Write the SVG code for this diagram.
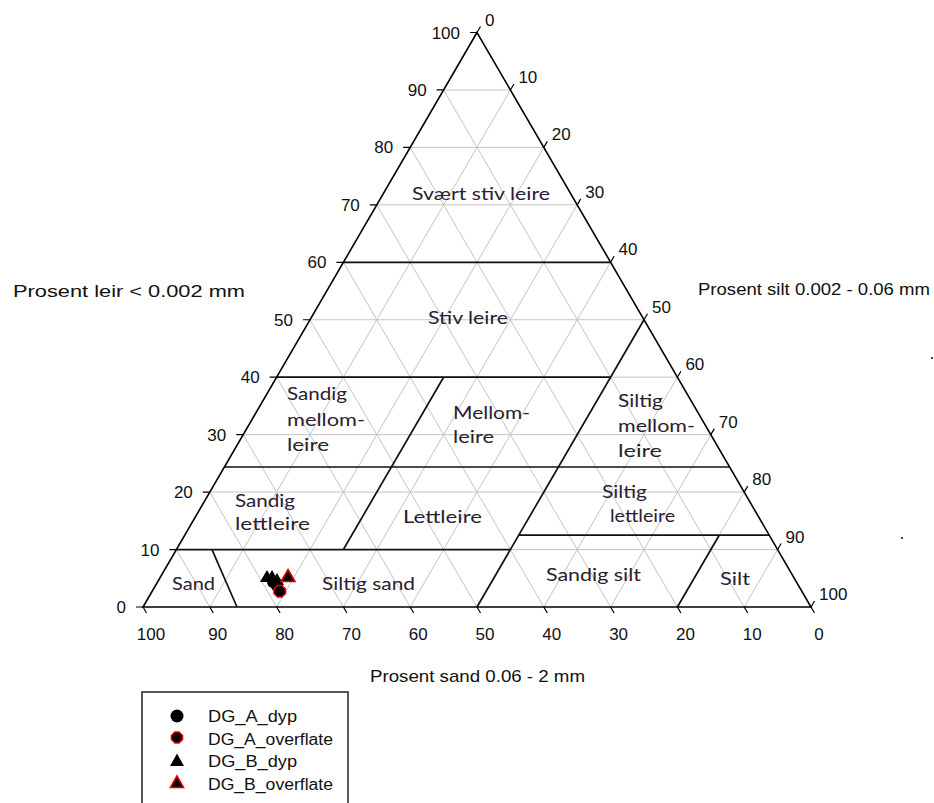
<svg xmlns="http://www.w3.org/2000/svg" width="934" height="803" viewBox="0 0 934 803">
<style>
.grid{fill:none;stroke:#c4c4c4;stroke-width:1}
.edge{fill:none;stroke:#000;stroke-width:1.6;stroke-linejoin:miter}
.bound{fill:none;stroke:#111;stroke-width:1.7}
.tick{fill:none;stroke:#000;stroke-width:1.2}
.num{font-family:"Liberation Sans",Arial,sans-serif;font-size:17px;fill:#111}
.title{font-family:"Liberation Sans",Arial,sans-serif;font-size:17px;fill:#111}
.lab{font-family:Lato,"Open Sans",sans-serif;font-size:17px;fill:#2a2030}
.leg{font-family:"Liberation Sans",Arial,sans-serif;font-size:16px;fill:#111}
.blk{fill:#000;stroke:none}
.red{fill:#000;stroke:#e00000;stroke-width:1.6}
</style>
<rect width="934" height="803" fill="#fff"/>
<g id="grid">
<path class="grid" d="M176.4 549.55H777.6M209.8 492.1H744.2M243.2 434.65H710.8M276.6 377.2H677.4M310 319.75H644M343.4 262.3H610.6M376.8 204.85H577.2M410.2 147.4H543.8M443.6 89.95H510.4"/>
<path class="grid" d="M209.8 607L510.4 89.95M276.6 607L543.8 147.4M343.4 607L577.2 204.85M410.2 607L610.6 262.3M477 607L644 319.75M543.8 607L677.4 377.2M610.6 607L710.8 434.65M677.4 607L744.2 492.1M744.2 607L777.6 549.55"/>
<path class="grid" d="M744.2 607L443.6 89.95M677.4 607L410.2 147.4M610.6 607L376.8 204.85M543.8 607L343.4 262.3M477 607L310 319.75M410.2 607L276.6 377.2M343.4 607L243.2 434.65M276.6 607L209.8 492.1M209.8 607L176.4 549.55"/>
</g>
<g id="connectors">
<path class="bound" d="M176.4 549.55H510.4M518.75 535.2H769.25M224.4 467H729.6M276.6 377.2H610.6M343.4 262.3H610.6M477 607L644 319.75M343.4 549.55L443.6 377.2M677.4 607L719.2 535.2M237 607L212 549.55"/>
</g>
<g id="triangle">
<path class="edge" d="M477 32.5L143 607L811 607Z"/>
<path class="tick" d="M136 607H143M169.4 549.55H176.4M202.8 492.1H209.8M236.2 434.65H243.2M269.6 377.2H276.6M303 319.75H310M336.4 262.3H343.4M369.8 204.85H376.8M403.2 147.4H410.2M436.6 89.95H443.6M470 32.5H477"/>
<path class="tick" d="M477 32.5l3.5 -6M510.4 89.95l3.5 -6M543.8 147.4l3.5 -6M577.2 204.85l3.5 -6M610.6 262.3l3.5 -6M644 319.75l3.5 -6M677.4 377.2l3.5 -6M710.8 434.65l3.5 -6M744.2 492.1l3.5 -6M777.6 549.55l3.5 -6M811 607l3.5 -6"/>
<path class="tick" d="M143 607l3.5 6M209.8 607l3.5 6M276.6 607l3.5 6M343.4 607l3.5 6M410.2 607l3.5 6M477 607l3.5 6M543.8 607l3.5 6M610.6 607l3.5 6M677.4 607l3.5 6M744.2 607l3.5 6M811 607l3.5 6"/>
</g>
<g id="axis-left" class="num" text-anchor="end">
<text x="460" y="38.5">100</text><text x="426.6" y="96">90</text><text x="393.2" y="153.4">80</text><text x="359.8" y="210.9">70</text><text x="326.4" y="268.3">60</text><text x="293" y="325.8">50</text><text x="259.6" y="383.2">40</text><text x="226.2" y="440.7">30</text><text x="192.8" y="498.1">20</text><text x="159.4" y="555.6">10</text><text x="126" y="613">0</text>
</g>
<g id="axis-right" class="num">
<text x="485" y="25.5">0</text><text x="518.4" y="83">10</text><text x="551.8" y="140.4">20</text><text x="585.2" y="197.9">30</text><text x="618.6" y="255.3">40</text><text x="652" y="312.8">50</text><text x="685.4" y="370.2">60</text><text x="718.8" y="427.7">70</text><text x="752.2" y="485.1">80</text><text x="785.6" y="542.6">90</text><text x="819" y="600">100</text>
</g>
<g id="axis-bottom" class="num" text-anchor="middle">
<text x="151" y="640">100</text><text x="217.8" y="640">90</text><text x="284.6" y="640">80</text><text x="351.4" y="640">70</text><text x="418.2" y="640">60</text><text x="485" y="640">50</text><text x="551.8" y="640">40</text><text x="618.6" y="640">30</text><text x="685.4" y="640">20</text><text x="752.2" y="640">10</text><text x="819" y="640">0</text>
</g>
<g id="titles" class="title">
<text x="13" y="297" textLength="232" lengthAdjust="spacingAndGlyphs">Prosent leir &lt; 0.002 mm</text>
<text x="698" y="295" textLength="232" lengthAdjust="spacingAndGlyphs">Prosent silt 0.002 - 0.06 mm</text>
<text x="370" y="682" textLength="215" lengthAdjust="spacingAndGlyphs">Prosent sand 0.06 - 2 mm</text>
</g>
<g id="classes" class="lab">
<text x="412" y="200" textLength="138" lengthAdjust="spacingAndGlyphs">Svært stiv leire</text>
<text x="428" y="324" textLength="80" lengthAdjust="spacingAndGlyphs">Stiv leire</text>
<text x="287" y="400" textLength="60" lengthAdjust="spacingAndGlyphs">Sandig</text>
<text x="287" y="426" textLength="78" lengthAdjust="spacingAndGlyphs">mellom-</text>
<text x="287" y="451" textLength="42" lengthAdjust="spacingAndGlyphs">leire</text>
<text x="453" y="419" textLength="77" lengthAdjust="spacingAndGlyphs">Mellom-</text>
<text x="453" y="443" textLength="41" lengthAdjust="spacingAndGlyphs">leire</text>
<text x="618" y="407" textLength="45" lengthAdjust="spacingAndGlyphs">Siltig</text>
<text x="618" y="432" textLength="77" lengthAdjust="spacingAndGlyphs">mellom-</text>
<text x="618" y="457" textLength="44" lengthAdjust="spacingAndGlyphs">leire</text>
<text x="235" y="507" textLength="60" lengthAdjust="spacingAndGlyphs">Sandig</text>
<text x="235" y="530" textLength="75" lengthAdjust="spacingAndGlyphs">lettleire</text>
<text x="403" y="523" textLength="79" lengthAdjust="spacingAndGlyphs">Lettleire</text>
<text x="602" y="498" textLength="45" lengthAdjust="spacingAndGlyphs">Siltig</text>
<text x="610" y="522" textLength="65" lengthAdjust="spacingAndGlyphs">lettleire</text>
<text x="172" y="590" textLength="43" lengthAdjust="spacingAndGlyphs">Sand</text>
<text x="322" y="590" textLength="93" lengthAdjust="spacingAndGlyphs">Siltig sand</text>
<text x="546" y="581" textLength="95" lengthAdjust="spacingAndGlyphs">Sandig silt</text>
<text x="720" y="585" textLength="30" lengthAdjust="spacingAndGlyphs">Silt</text>
</g>
<g id="data">
<path class="blk" d="M267 570l7 12h-14z"/>
<path class="blk" d="M272 570l7 12h-14z"/>
<path class="blk" d="M277 573l7 12h-14z"/>
<circle class="blk" cx="273" cy="582" r="6"/>
<circle class="blk" cx="277" cy="586" r="6"/>
<path class="red" d="M288 569.5l7 12h-14z"/>
<path class="red" d="M277.5 585.5h4.5l3.5 3.5v4.5l-3.5 3.5h-4.5l-3.5 -3.5v-4.5z"/>
</g>
<g id="legend">
<rect x="142" y="692" width="206" height="130" fill="none" stroke="#222" stroke-width="1.5"/>
<circle class="blk" cx="177" cy="716" r="6.5"/>
<path class="red" d="M175 732h4l3.5 3.5v4l-3.5 3.5h-4l-3.5 -3.5v-4z"/>
<path class="blk" d="M177 753.5l7 12.5h-14z"/>
<path class="red" d="M177 776l6.5 11.5h-13z"/>
<text class="leg" x="208" y="722" textLength="89" lengthAdjust="spacingAndGlyphs">DG_A_dyp</text>
<text class="leg" x="208" y="745" textLength="125" lengthAdjust="spacingAndGlyphs">DG_A_overflate</text>
<text class="leg" x="208" y="767" textLength="89" lengthAdjust="spacingAndGlyphs">DG_B_dyp</text>
<text class="leg" x="208" y="790" textLength="125" lengthAdjust="spacingAndGlyphs">DG_B_overflate</text>
</g>
<g id="marks">
<rect x="931" y="357" width="2" height="2" fill="#444"/>
<rect x="901" y="537" width="2" height="2" fill="#444"/>
</g>
</svg>
